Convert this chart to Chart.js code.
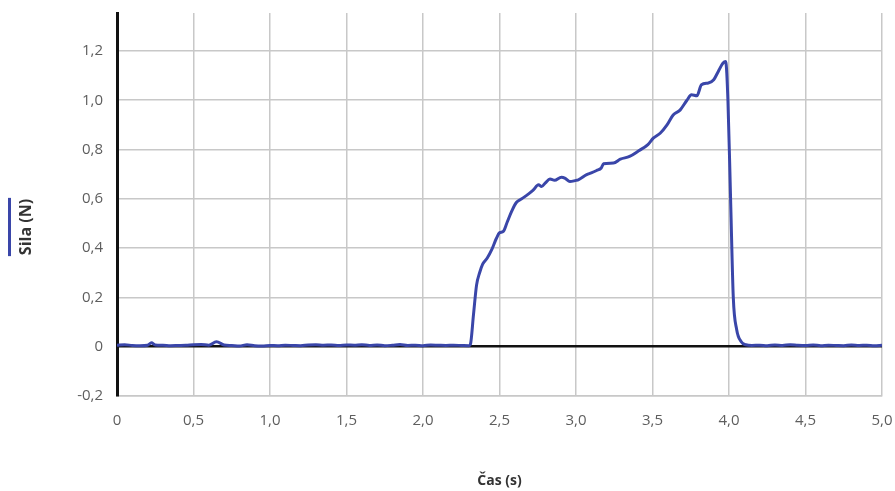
<!DOCTYPE html>
<html>
<head>
<meta charset="utf-8">
<script src="https://cdn.jsdelivr.net/npm/chart.js"></script>
<style>
	html, body { margin: 0; padding: 0; background: #fff; overflow: hidden; }
	#wrap { width: 895px; height: 491px; }
</style>
</head>
<body>
<div id="wrap"><canvas id="force"></canvas></div>
<script>
// measured force, time in s, force in N
const times = [
	0, 0.05, 0.1, 0.15, 0.2, 0.225, 0.25, 0.3, 0.35, 0.4,
	0.45, 0.5, 0.55, 0.6, 0.65, 0.7, 0.75, 0.8, 0.85, 0.9,
	0.95, 1.0, 1.05, 1.1, 1.15, 1.2, 1.25, 1.3, 1.35, 1.4,
	1.45, 1.5, 1.55, 1.6, 1.65, 1.7, 1.75, 1.8, 1.85, 1.9,
	1.95, 2.0, 2.05, 2.1, 2.15, 2.2, 2.25, 2.3, 2.31, 2.33,
	2.35, 2.37, 2.39, 2.42, 2.45, 2.48, 2.5, 2.525, 2.55, 2.58,
	2.61, 2.645, 2.69, 2.72, 2.755, 2.775, 2.8, 2.83, 2.86, 2.905,
	2.93, 2.96, 3.0, 3.015, 3.07, 3.1, 3.135, 3.165, 3.18, 3.245,
	3.29, 3.35, 3.41, 3.47, 3.505, 3.55, 3.595, 3.635, 3.68, 3.725,
	3.755, 3.79, 3.82, 3.865, 3.9, 3.93, 3.96, 3.978, 3.993, 4.01,
	4.028, 4.05, 4.08, 4.11, 4.15, 4.2, 4.25, 4.3, 4.35, 4.4,
	4.45, 4.5, 4.55, 4.6, 4.65, 4.7, 4.75, 4.8, 4.85, 4.9,
	4.95, 5.0
]
const force = [
	0.006, 0.008, 0.005, 0.004, 0.006, 0.016, 0.007, 0.006, 0.004, 0.005,
	0.006, 0.008, 0.009, 0.006, 0.02, 0.007, 0.005, 0.003, 0.008, 0.004,
	0.003, 0.005, 0.004, 0.006, 0.005, 0.004, 0.007, 0.008, 0.006, 0.007,
	0.005, 0.007, 0.006, 0.008, 0.005, 0.007, 0.004, 0.006, 0.009, 0.005,
	0.006, 0.004, 0.007, 0.006, 0.005, 0.006, 0.005, 0.004, 0.01, 0.13,
	0.25, 0.30, 0.335, 0.36, 0.395, 0.44, 0.462, 0.468, 0.505, 0.55,
	0.585, 0.60, 0.62, 0.635, 0.657, 0.65, 0.665, 0.68, 0.675, 0.688,
	0.683, 0.67, 0.675, 0.677, 0.698, 0.705, 0.715, 0.725, 0.742, 0.745,
	0.761, 0.772, 0.795, 0.82, 0.846, 0.866, 0.90, 0.94, 0.96, 1.0,
	1.022, 1.018, 1.063, 1.07, 1.083, 1.117, 1.15, 1.157, 1.0, 0.61,
	0.20, 0.07, 0.02, 0.008, 0.005, 0.006, 0.004, 0.007, 0.005, 0.008,
	0.006, 0.005, 0.007, 0.004, 0.006, 0.005, 0.004, 0.007, 0.005, 0.006,
	0.004, 0.006
]
const xTicks = [0, 0.5, 1, 1.5, 2, 2.5, 3, 3.5, 4, 4.5, 5]
const yTicks = [-0.2, 0, 0.2, 0.4, 0.6, 0.8, 1.0, 1.2]
const xTitle = 'Čas (s)'
const yTitle = 'Sila (N)'
const lineColor = '#3a46a9'
const gridColor = '#c8c8c8'

const comma = v => v === 0 ? '0' : v.toFixed(1).replace('.', ',')
const tickFont = { family: 'Open Sans', size: 15 }

// y title sits beside a short line in the series colour
const yTitlePlugin = {
	id: 'yTitle',
	afterDraw(chart) {
		const ctx = chart.ctx
		ctx.save()
		ctx.font = 'bold 16px "Open Sans"'
		const w = ctx.measureText(yTitle).width
		ctx.translate(26, 227)
		ctx.rotate(-Math.PI / 2)
		ctx.fillStyle = '#333'
		ctx.textAlign = 'center'
		ctx.textBaseline = 'middle'
		ctx.fillText(yTitle, 0, 0)
		ctx.restore()
		ctx.fillStyle = lineColor
		ctx.fillRect(8, 227 - w / 2 - 1, 3, w + 2)
	}
}

new Chart(document.getElementById('force'), {
	type: 'line',
	data: {
		datasets: [{
			label: yTitle,
			data: times.map((t, i) => ({ x: t, y: force[i] })),
			borderColor: lineColor,
			borderWidth: 3,
			pointRadius: 0,
			cubicInterpolationMode: 'monotone'
		}]
	},
	options: {
		responsive: true,
		maintainAspectRatio: false,
		animation: false,
		layout: { padding: { top: 13, right: 13, left: 0, bottom: 0 } },
		plugins: { legend: { display: false }, tooltip: { enabled: false } },
		scales: {
			x: {
				type: 'linear', min: 0, max: 5,
				afterBuildTicks: s => { s.ticks = xTicks.map(v => ({ value: v })) },
				afterFit: s => { s.height = 95; s.paddingLeft = 0; s.paddingRight = 0 },
				ticks: { callback: comma, color: '#5e5e5e', font: tickFont, padding: 16, maxRotation: 0, autoSkip: false },
				grid: { color: c => c.tick && c.tick.value === 0 ? 'rgba(0,0,0,0)' : gridColor, lineWidth: 1.5, drawTicks: false },
				border: { color: gridColor, width: 1.5 },
				title: { display: true, text: xTitle, color: '#333', font: { family: 'Open Sans', size: 14, weight: 'bold' }, padding: { top: 0, bottom: 2 } }
			},
			y: {
				min: -0.2, max: 1.354,
				afterBuildTicks: s => { s.ticks = yTicks.map(v => ({ value: v })) },
				afterFit: s => { s.width = 117; s.paddingTop = 0; s.paddingBottom = 0 },
				ticks: { callback: comma, color: '#5e5e5e', font: tickFont, padding: 14 },
				grid: {
					color: c => c.tick && c.tick.value === 0 ? '#111' : gridColor,
					lineWidth: c => c.tick && c.tick.value === 0 ? 2.5 : 1.5,
					drawTicks: false
				},
				border: { color: '#111', width: 3 }
			}
		}
	},
	plugins: [yTitlePlugin]
})
</script>
</body>
</html>
